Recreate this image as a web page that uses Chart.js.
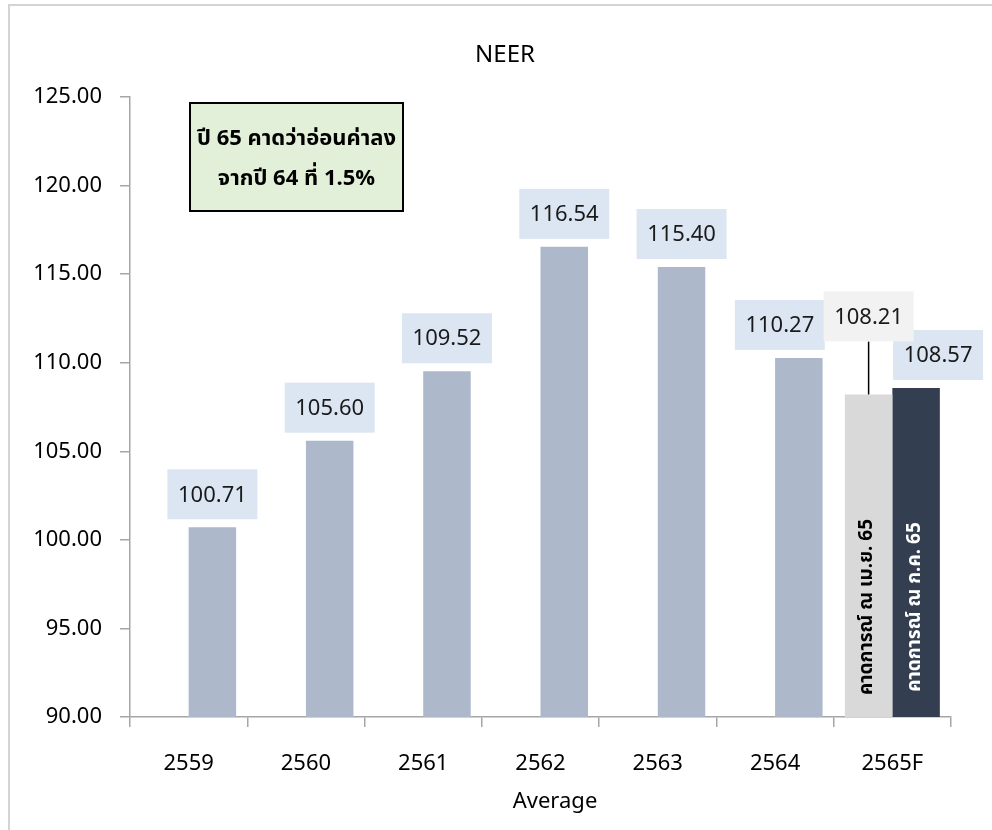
<!DOCTYPE html>
<html>
<head>
    <meta charset="utf-8">
    <title>NEER</title>
    <style>
        html, body {
            margin: 0;
            padding: 0;
            background: #fff;
            overflow: hidden;
        }
        .frame {
            position: absolute;
            left: 8px;
            top: 4px;
            width: 2000px;
            height: 2000px;
            border-top: 2px solid #d4d4d4;
            border-left: 2px solid #d4d4d4;
        }
        .wrap {
            position: absolute;
            left: 0;
            top: 0;
            width: 992px;
            height: 830px;
        }
    </style>
    <script src="https://cdn.jsdelivr.net/npm/chart.js"></script>
</head>
<body>
    <div class="frame"></div>
    <div class="wrap"><canvas id="neerChart"></canvas></div>

    <script>
        // data
        const years = ['2559', '2560', '2561', '2562', '2563', '2564', '2565F'];
        const neerValues = [100.71, 105.60, 109.52, 116.54, 115.40, 110.27, 108.57];
        const aprilForecast = [null, null, null, null, null, null, 108.21];
        const yTicks = [90, 95, 100, 105, 110, 115, 120, 125];
        const noteLines = ['ปี 65 คาดว่าอ่อนค่าลง', 'จากปี 64 ที่ 1.5%'];
        const aprilLabel = 'คาดการณ์ ณ เม.ย. 65';
        const julyLabel = 'คาดการณ์ ณ ก.ค. 65';
        const chartTitle = 'NEER';
        const xTitle = 'Average';

        const FONT = '"Noto Sans", "Noto Sans Thai", Tahoma, sans-serif';
        const THAI = '"Noto Sans Thai", "Noto Sans", Tahoma, sans-serif';

        const neerColors = neerValues.map((v, i) => i === neerValues.length - 1 ? '#333f50' : '#adb9ca');

        // title, value boxes, note box and rotated bar texts
        const labelPlugin = {
            id: 'neerLabels',
            afterDatasetsDraw(chart) {
                const ctx = chart.ctx;
                const area = chart.chartArea;
                const nudge = [0, 0, 0, 0, 0, -19, 22];

                function box(text, cx, bottom, bg) {
                    const w = 90, h = 50;
                    ctx.fillStyle = bg;
                    ctx.fillRect(cx - w / 2, bottom - h, w, h);
                    ctx.fillStyle = '#1a1a1a';
                    ctx.font = '22px ' + FONT;
                    ctx.textAlign = 'center';
                    ctx.textBaseline = 'middle';
                    ctx.fillText(text, cx, bottom - h / 2 + 1);
                }

                ctx.save();
                ctx.textAlign = 'center';
                ctx.textBaseline = 'middle';
                ctx.fillStyle = '#000';
                ctx.font = '24px ' + FONT;
                ctx.fillText(chartTitle, 505, 55);
                ctx.font = '22px ' + FONT;
                ctx.fillText(xTitle, 555, 802);

                // main series
                chart.getDatasetMeta(1).data.forEach((bar, i) => {
                    box(neerValues[i].toFixed(2), bar.x + nudge[i], bar.y - 8, '#dce6f2');
                });
                // april forecast, lifted with a leader line
                chart.getDatasetMeta(0).data.forEach((bar, i) => {
                    if (aprilForecast[i] == null) return;
                    const bottom = bar.y - 53;
                    ctx.strokeStyle = '#000';
                    ctx.lineWidth = 1.5;
                    ctx.beginPath();
                    ctx.moveTo(bar.x, bottom);
                    ctx.lineTo(bar.x, bar.y);
                    ctx.stroke();
                    box(aprilForecast[i].toFixed(2), bar.x, bottom, '#f2f2f2');
                });

                // rotated texts inside the 2565F bars
                const last = years.length - 1;
                const aprBar = chart.getDatasetMeta(0).data[last];
                const julBar = chart.getDatasetMeta(1).data[last];
                ctx.font = 'bold 19px ' + THAI;
                ctx.textAlign = 'center';
                ctx.textBaseline = 'middle';
                [[aprBar, aprilLabel, '#000'], [julBar, julyLabel, '#fff']].forEach(([bar, txt, col]) => {
                    ctx.save();
                    ctx.translate(bar.x, area.bottom - 110);
                    ctx.rotate(-Math.PI / 2);
                    ctx.fillStyle = col;
                    ctx.fillText(txt, 0, 0);
                    ctx.restore();
                });

                // note box
                const nx = area.left + 60, ny = area.top + 6, nw = 213, nh = 108;
                ctx.fillStyle = '#e2f0d9';
                ctx.fillRect(nx, ny, nw, nh);
                ctx.strokeStyle = '#000';
                ctx.lineWidth = 2;
                ctx.strokeRect(nx, ny, nw, nh);
                ctx.fillStyle = '#000';
                ctx.font = 'bold 22px ' + THAI;
                ctx.fillText(noteLines[0], nx + nw / 2, ny + 38);
                ctx.fillText(noteLines[1], nx + nw / 2, ny + 78);
                ctx.restore();
            }
        };

        const ctx = document.getElementById('neerChart').getContext('2d');
        const neerChart = new Chart(ctx, {
            type: 'bar',
            data: {
                labels: years,
                datasets: [{
                    label: aprilLabel,
                    data: aprilForecast,
                    backgroundColor: '#d9d9d9'
                }, {
                    label: 'NEER',
                    data: neerValues,
                    backgroundColor: neerColors
                }]
            },
            options: {
                responsive: true,
                maintainAspectRatio: false,
                animation: false,
                categoryPercentage: 0.81,
                barPercentage: 1.0,
                layout: {
                    padding: { left: 0, right: 41, top: 97, bottom: 0 }
                },
                plugins: {
                    legend: { display: false },
                    tooltip: { enabled: false },
                    title: { display: false }
                },
                scales: {
                    x: {
                        grid: {
                            offset: true,
                            drawOnChartArea: false,
                            tickLength: 10,
                            color: '#a6a6a6',
                            lineWidth: 1.5
                        },
                        border: { color: '#a6a6a6', width: 1.5 },
                        ticks: {
                            color: '#000',
                            font: { family: FONT, size: 22 },
                            padding: 24
                        },
                        afterFit: s => { s.height = 113; }
                    },
                    y: {
                        min: yTicks[0],
                        max: yTicks[yTicks.length - 1],
                        afterBuildTicks: s => { s.ticks = yTicks.map(v => ({ value: v })); },
                        ticks: {
                            color: '#000',
                            font: { family: FONT, size: 22 },
                            padding: 18,
                            callback: v => Number(v).toFixed(2)
                        },
                        grid: {
                            drawOnChartArea: false,
                            tickLength: 10,
                            color: '#a6a6a6',
                            lineWidth: 1.5
                        },
                        border: { color: '#a6a6a6', width: 1.5 },
                        afterFit: s => { s.width = 130; }
                    }
                }
            },
            plugins: [labelPlugin]
        });
    </script>
</body>
</html>
